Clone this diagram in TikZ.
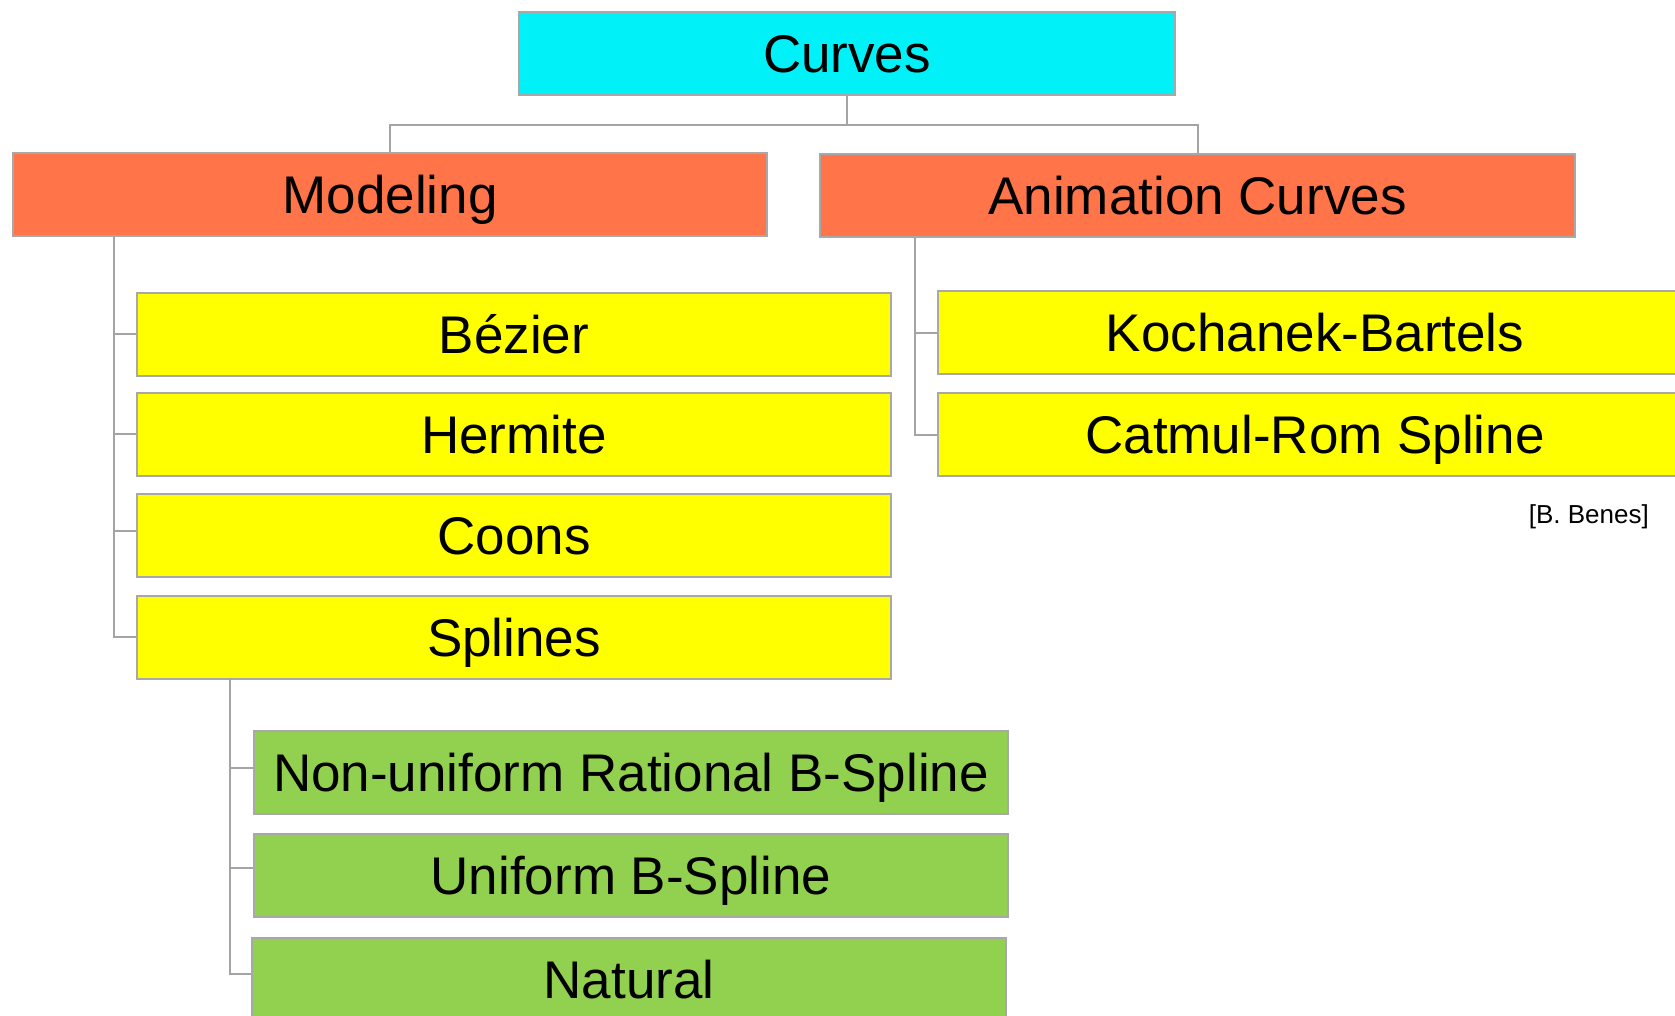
\documentclass[tikz,border=0pt]{standalone}
\usepackage{fontspec}
\setmainfont{Liberation Sans}
\definecolor{cyanfill}{HTML}{00F2F8}
\definecolor{orangefill}{HTML}{FF7448}
\definecolor{yellowfill}{HTML}{FFFF00}
\definecolor{greenfill}{HTML}{92D050}
\definecolor{boxline}{HTML}{A8A8A8}
\definecolor{connline}{HTML}{A4A4A4}
\begin{document}
\begin{tikzpicture}[x=1pt,y=-1pt,
  box/.style={draw=boxline, line width=2pt, inner sep=0pt,
    minimum width=754pt, minimum height=83pt,
    font=\fontsize{53}{60}\selectfont, text height=38pt, text depth=0pt},
  topbox/.style={box, fill=cyanfill, minimum width=656pt},
  midbox/.style={box, fill=orangefill},
  ybox/.style={box, fill=yellowfill},
  gbox/.style={box, fill=greenfill},
  conn/.style={draw=connline, line width=2pt},
  credit/.style={font=\fontsize{26}{30}\selectfont, inner sep=0pt, text height=19pt, text depth=0pt}]
\useasboundingbox (0,0) rectangle (1675,1016);
\clip (0,0) rectangle (1675,1016);
\fill[white] (0,0) rectangle (1675,1016);

% nodes
\node[topbox] (curves) at (847,53.5) {Curves};
\node[midbox] (modeling) at (390,195) {Modeling};
\node[midbox, minimum width=755pt] (anim) at (1197.5,196) {Animation Curves};

\node[ybox] (bezier) at (514,334) {Bézier};
\node[ybox] (hermite) at (514,434) {Hermite};
\node[ybox] (coons) at (514,535) {Coons};
\node[ybox] (splines) at (514,637) {Splines};

\node[ybox] (kb) at (1315,332.5) {Kochanek-Bartels};
\node[ybox] (catmul) at (1315,434.5) {Catmul-Rom Spline};

\node[gbox] (nurbs) at (631,772) {Non-uniform Rational B-Spline};
\node[gbox] (uniform) at (631,875) {Uniform B-Spline};
\node[gbox] (natural) at (629,979) {Natural};

\node[credit, anchor=east] (benes) at (1649,514) {[B. Benes]};

% trunk start points
\coordinate (mt) at (114,237);
\coordinate (at) at (915,238);
\coordinate (st) at (230,678);

% connectors: top level
\draw[conn] (curves.south) -- ++(0,29) coordinate (hb) -| (modeling.north);
\draw[conn] (hb) -| (anim.north);

% Modeling children
\draw[conn] (mt) |- (splines.west);
\draw[conn] (mt |- bezier.west) -- (bezier.west);
\draw[conn] (mt |- hermite.west) -- (hermite.west);
\draw[conn] ([yshift=4pt]coons.west -| mt) -- ([yshift=4pt]coons.west);

% Animation children
\draw[conn] (at) |- (catmul.west);
\draw[conn] (at |- kb.west) -- (kb.west);

% Splines children
\draw[conn] (st) |- ([yshift=5pt]natural.west);
\draw[conn] ([yshift=4pt]nurbs.west -| st) -- ([yshift=4pt]nurbs.west);
\draw[conn] ([yshift=7pt]uniform.west -| st) -- ([yshift=7pt]uniform.west);
\end{tikzpicture}
\end{document}
